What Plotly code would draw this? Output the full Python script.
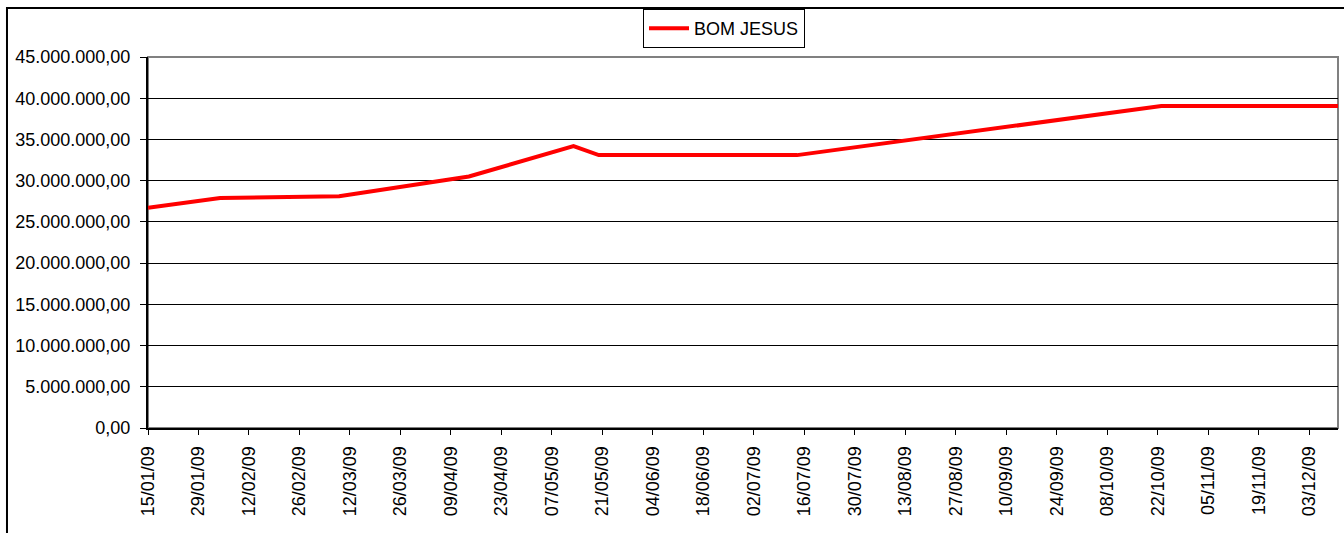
import plotly.graph_objects as go

dates = ['2009-01-15', '2009-02-04', '2009-03-09', '2009-04-14', '2009-05-13',
         '2009-05-20', '2009-07-14', '2009-10-23', '2009-12-11']
values = [26.7e6, 27.9e6, 28.1e6, 30.5e6, 34.2e6, 33.1e6, 33.1e6, 39.05e6, 39.05e6]
series_name = 'BOM JESUS'

FONT = 'Liberation Sans, Arial, sans-serif'

fig = go.Figure()
fig.add_trace(go.Scatter(x=dates, y=values, mode='lines', name=series_name,
                         line=dict(color='#ff0000', width=4)))

fig.update_layout(
    width=1344, height=533,
    margin=dict(l=148, r=6, t=57, b=105, autoexpand=False),
    paper_bgcolor='white', plot_bgcolor='white',
    font=dict(family=FONT, size=18, color='black'),
    separators=',.',
    showlegend=True,
    legend=dict(xref='container', yref='container',
                x=724 / 1344, xanchor='center', y=1 - 9 / 533, yanchor='top',
                orientation='h', bordercolor='black', borderwidth=1,
                bgcolor='white', font=dict(size=18), itemwidth=40),
    xaxis=dict(type='date', range=['2009-01-15', '2009-12-11'],
               tick0='2009-01-15', dtick=14 * 86400000, tickformat='%d/%m/%y',
               tickangle=-90, ticks='outside', ticklen=5, tickcolor='black',
               ticklabelstandoff=4,
               showgrid=False, showline=True, linecolor='black', linewidth=2,
               zeroline=False, automargin=False),
    yaxis=dict(range=[0, 45e6], dtick=5e6, tickformat=',.2f',
               ticks='outside', ticklen=6, tickcolor='black',
               ticklabelstandoff=6,
               showgrid=True, gridcolor='black', gridwidth=1,
               showline=True, linecolor='black', linewidth=2, zeroline=False,
               automargin=False),
    shapes=[
        dict(type='rect', xref='paper', yref='paper', x0=0, x1=1, y0=0, y1=1,
             line=dict(color='#808080', width=2), layer='below'),
        dict(type='rect', xref='paper', yref='paper', x0=-0.1185, x1=1.02,
             y0=-0.31, y1=1.132, line=dict(color='black', width=2), layer='below'),
    ],
)

fig.write_html('out.html', config={'displayModeBar': False},
               post_script="document.body.style.margin='0';"
                           "document.body.style.overflow='hidden';")
